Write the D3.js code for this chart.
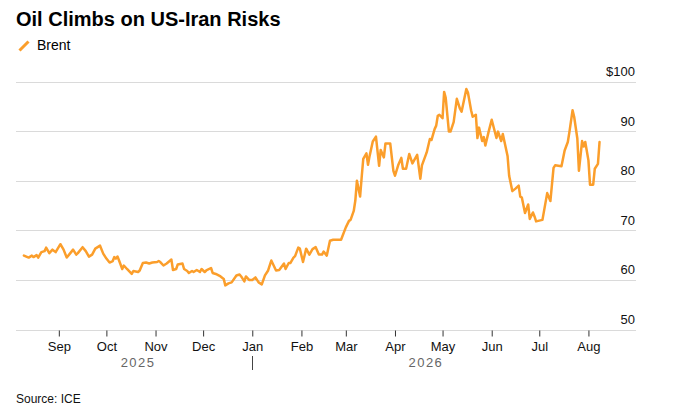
<!DOCTYPE html>
<html>
<head>
<meta charset="utf-8">
<script src="https://cdn.jsdelivr.net/npm/d3@7"></script>
<style>
  html, body { margin: 0; padding: 0; background: #fff; }
  svg { display: block; font-family: "Liberation Sans", Arial, sans-serif; }
</style>
</head>
<body>
<div id="chart"></div>
<script>
// Brent crude
const dates = [
  "2025-08-10","2025-08-13","2025-08-15","2025-08-16","2025-08-18","2025-08-19","2025-08-21","2025-08-23","2025-08-24","2025-08-26",
  "2025-08-28","2025-08-30","2025-09-02","2025-09-04","2025-09-06","2025-09-08","2025-09-10","2025-09-12","2025-09-13","2025-09-16",
  "2025-09-18","2025-09-20","2025-09-22","2025-09-24","2025-09-27","2025-09-29","2025-10-01","2025-10-03","2025-10-05","2025-10-06",
  "2025-10-07","2025-10-08","2025-10-09","2025-10-11","2025-10-12","2025-10-14","2025-10-17","2025-10-18","2025-10-21","2025-10-22",
  "2025-10-24","2025-10-26","2025-10-28","2025-10-30","2025-11-02","2025-11-03","2025-11-04","2025-11-06","2025-11-08","2025-11-11",
  "2025-11-12","2025-11-14","2025-11-15","2025-11-18","2025-11-19","2025-11-21","2025-11-22","2025-11-24","2025-11-25","2025-11-27",
  "2025-11-29","2025-11-30","2025-12-02","2025-12-03","2025-12-06","2025-12-07","2025-12-09","2025-12-12","2025-12-14","2025-12-15",
  "2025-12-17","2025-12-19","2025-12-22","2025-12-24","2025-12-25","2025-12-27","2025-12-28","2025-12-30","2026-01-01","2026-01-03",
  "2026-01-05","2026-01-07","2026-01-09","2026-01-11","2026-01-13","2026-01-16","2026-01-18","2026-01-21","2026-01-22","2026-01-24",
  "2026-01-25","2026-01-27","2026-01-28","2026-01-30","2026-01-31","2026-02-02","2026-02-04","2026-02-06","2026-02-08","2026-02-10",
  "2026-02-12","2026-02-14","2026-02-15","2026-02-17","2026-02-19","2026-02-21","2026-02-26","2026-03-01","2026-03-03","2026-03-04",
  "2026-03-06","2026-03-07","2026-03-08","2026-03-10","2026-03-11","2026-03-12","2026-03-14","2026-03-15","2026-03-16","2026-03-18",
  "2026-03-20","2026-03-22","2026-03-23","2026-03-25","2026-03-26","2026-03-29","2026-03-31","2026-04-01","2026-04-03","2026-04-05",
  "2026-04-06","2026-04-08","2026-04-10","2026-04-12","2026-04-15","2026-04-17","2026-04-18","2026-04-21","2026-04-23","2026-04-24",
  "2026-04-26","2026-04-27","2026-04-28","2026-04-29","2026-05-01","2026-05-02","2026-05-03","2026-05-05","2026-05-06","2026-05-08",
  "2026-05-10","2026-05-12","2026-05-13","2026-05-16","2026-05-17","2026-05-19","2026-05-20","2026-05-22","2026-05-23","2026-05-24",
  "2026-05-26","2026-05-27","2026-05-28","2026-05-30","2026-06-01","2026-06-04","2026-06-05","2026-06-07","2026-06-08","2026-06-11",
  "2026-06-12","2026-06-14","2026-06-16","2026-06-18","2026-06-19","2026-06-20","2026-06-22","2026-06-24","2026-06-25","2026-06-27",
  "2026-06-28","2026-06-29","2026-07-03","2026-07-06","2026-07-08","2026-07-10","2026-07-11","2026-07-15","2026-07-17","2026-07-19",
  "2026-07-20","2026-07-22","2026-07-23","2026-07-25","2026-07-26","2026-07-28","2026-07-29","2026-07-30","2026-08-01","2026-08-02",
  "2026-08-04","2026-08-05","2026-08-07","2026-08-08"
];

const brent = [
  64.9,64.5,64.9,64.6,65.0,64.5,65.6,65.8,66.5,65.4,
  66.1,65.6,67.2,66.1,64.5,65.3,66.1,65.1,65.4,66.6,
  65.8,64.7,65.1,66.3,66.9,65.3,64.3,63.5,63.8,64.6,
  64.3,64.7,63.9,62.2,62.9,62.2,61.2,61.8,61.6,61.9,
  63.4,63.5,63.3,63.5,63.6,63.8,63.6,62.9,63.3,64.1,
  62.0,62.2,63.1,63.3,62.2,61.8,61.4,61.8,61.6,62.0,
  61.6,62.2,61.6,61.9,62.4,61.4,61.2,60.7,60.2,58.9,
  59.3,59.5,60.9,61.1,60.7,59.7,60.7,60.0,60.0,60.5,
  59.5,59.1,60.9,61.9,63.9,61.9,62.0,63.3,62.2,63.4,
  63.4,64.5,64.8,66.5,66.3,63.6,66.3,65.1,66.2,66.6,
  65.1,65.1,65.7,64.9,67.9,68.1,68.1,70.6,71.9,72.1,
  73.9,76.0,80.0,76.8,80.7,84.4,85.5,83.2,85.0,87.9,
  88.9,83.0,86.2,84.7,87.5,87.5,82.0,81.0,83.1,84.6,
  82.4,82.4,85.4,83.5,85.2,80.4,83.1,85.7,88.4,88.2,
  90.4,91.1,93.1,93.3,92.6,97.9,96.7,89.9,89.9,91.8,
  96.5,94.5,93.9,98.5,97.8,94.2,92.9,93.3,88.6,90.7,
  88.0,88.8,87.1,89.8,92.3,88.6,89.9,88.0,89.4,85.0,
  81.0,77.9,78.4,79.0,76.8,76.6,73.5,75.2,72.3,73.6,
  72.8,71.8,72.1,77.5,75.9,82.6,83.1,82.9,86.1,87.8,
  89.8,94.2,92.9,88.5,82.0,88.0,86.9,87.8,84.1,79.2,
  79.2,82.4,83.4,87.8
];

const yTicks = [50, 60, 70, 80, 90, 100];
const monthTicks = [
  "2025-09-01","2025-10-01","2025-11-01","2025-12-01","2026-01-01","2026-02-01",
  "2026-03-01","2026-04-01","2026-05-01","2026-06-01","2026-07-01","2026-08-01"
];
const yearLabels = ["2025", "2026"];
const xDomain = ["2025-08-05", "2026-08-31"];

const width = 678;
const height = 407;
const plotLeft = 16, plotRight = 636, plotTop = 81.5, plotBottom = 329.5;
const lineColor = "#fb9e2b";

const parse = d3.timeParse("%Y-%m-%d");
const points = dates.map((d, i) => ({ date: parse(d), value: brent[i] }));

const svg = d3.select("#chart").append("svg")
  .attr("width", width)
  .attr("height", height)
  .attr("viewBox", `0 0 ${width} ${height}`);

const x = d3.scaleTime()
  .domain(xDomain.map(parse))
  .range([plotLeft, plotRight]);

const y = d3.scaleLinear()
  .domain([50, 100])
  .range([plotBottom, plotTop]);

// title + legend
svg.append("text")
  .attr("x", 16)
  .attr("y", 26)
  .attr("font-size", 20)
  .attr("font-weight", 700)
  .attr("fill", "#000")
  .text("Oil Climbs on US-Iran Risks");

svg.append("line")
  .attr("x1", 19.5).attr("y1", 50.5)
  .attr("x2", 28.5).attr("y2", 41.5)
  .attr("stroke", lineColor)
  .attr("stroke-width", 3)
  .attr("stroke-linecap", "butt");

svg.append("text")
  .attr("x", 37)
  .attr("y", 50)
  .attr("font-size", 14)
  .attr("fill", "#000")
  .text("Brent");

// gridlines + right labels
const grid = svg.append("g");
grid.selectAll("line")
  .data(yTicks)
  .join("line")
  .attr("x1", plotLeft)
  .attr("x2", plotRight)
  .attr("y1", d => Math.round(y(d)) + 0.5)
  .attr("y2", d => Math.round(y(d)) + 0.5)
  .attr("stroke", "#dadada")
  .attr("stroke-width", 1);

grid.selectAll("text")
  .data(yTicks)
  .join("text")
  .attr("x", 635)
  .attr("y", d => y(d) - 5.5)
  .attr("text-anchor", "end")
  .attr("font-size", 13)
  .attr("fill", "#111")
  .text(d => d === 100 ? "$" + d : d);

// month axis
const gx = svg.append("g")
  .attr("transform", `translate(0,${Math.round(y(50)) + 0.5})`)
  .call(d3.axisBottom(x)
    .tickValues(monthTicks.map(parse))
    .tickFormat(d3.timeFormat("%b"))
    .tickSizeInner(6)
    .tickSizeOuter(0)
    .tickPadding(5));

gx.select(".domain").remove();
gx.selectAll(".tick line").attr("stroke", "#333");
gx.selectAll(".tick text")
  .attr("font-size", 13)
  .attr("font-family", "Liberation Sans, Arial, sans-serif")
  .attr("fill", "#111");

// year row
const first = points[0].date;
const last = points[points.length - 1].date;
const yearStart = parse("2026-01-01");
const yearCenters = [
  (x(first) + x(yearStart)) / 2,
  (x(yearStart) + x(last)) / 2
];

svg.selectAll("text.year")
  .data(yearLabels)
  .join("text")
  .attr("class", "year")
  .attr("x", (d, i) => yearCenters[i])
  .attr("y", 367)
  .attr("text-anchor", "middle")
  .attr("font-size", 13)
  .attr("letter-spacing", 1.5)
  .attr("fill", "#666")
  .text(d => d);

svg.append("line")
  .attr("x1", Math.round(x(yearStart)) + 0.5)
  .attr("x2", Math.round(x(yearStart)) + 0.5)
  .attr("y1", 356)
  .attr("y2", 370)
  .attr("stroke", "#444")
  .attr("stroke-width", 1);

// the line
const line = d3.line()
  .x(d => x(d.date))
  .y(d => y(d.value));

svg.append("path")
  .datum(points)
  .attr("fill", "none")
  .attr("stroke", lineColor)
  .attr("stroke-width", 2.5)
  .attr("stroke-linejoin", "round")
  .attr("stroke-linecap", "round")
  .attr("d", line);

// source
svg.append("text")
  .attr("x", 16)
  .attr("y", 403)
  .attr("font-size", 12)
  .attr("fill", "#111")
  .text("Source: ICE");
</script>
</body>
</html>
